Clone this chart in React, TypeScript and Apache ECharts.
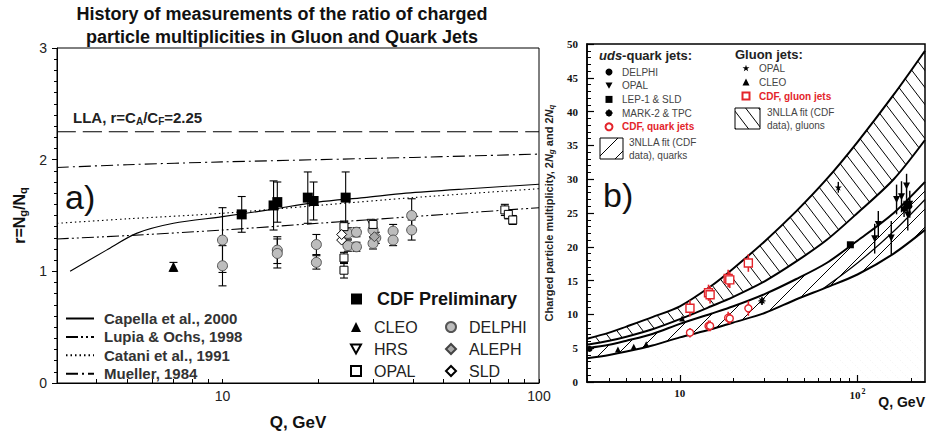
import React, { useEffect, useRef } from 'react';
import * as echarts from 'echarts';

// ---------------- Panel a) : ratio r = Ng/Nq ----------------
const leftTickValues = [3, 4, 5, 6, 7, 8, 9, 10, 20, 30, 40, 50, 60, 70, 80, 90, 100];
const leftLabelValues = [10, 100];

const llaQ = [3, 100];
const llaR = [2.25, 2.25];
const muellerQ = [3, 5, 10, 20, 40, 100];
const muellerR = [1.93, 1.955, 1.98, 2.0, 2.02, 2.05];
const lupiaQ = [3, 5, 10, 20, 40, 100];
const lupiaR = [1.29, 1.32, 1.37, 1.43, 1.49, 1.57];
const cataniQ = [3, 5, 10, 20, 40, 100];
const cataniR = [1.43, 1.47, 1.52, 1.59, 1.66, 1.74];
const capellaQ = [3.3, 4.3, 5.35, 7, 10, 14, 20, 28, 38, 60, 100];
const capellaR = [1.0, 1.19, 1.34, 1.43, 1.49, 1.55, 1.62, 1.66, 1.7, 1.74, 1.78];

const cdfQ = [11.5, 14.5, 14.9, 18.6, 19.4, 24.5];
const cdfR = [1.51, 1.59, 1.62, 1.66, 1.63, 1.66];
const cdfE = [0.16, 0.22, 0.18, 0.23, 0.17, 0.23];
const cleoQ = [7.0];
const cleoR = [1.04];
const cleoE = [0.04];
const hrsQ = [29.5];
const hrsR = [1.43];
const opalQ = [24.2, 24.2, 24.2, 29.9, 78, 80, 82.6];
const opalR = [1.4, 1.12, 1.01, 1.42, 1.55, 1.51, 1.46];
const opalE = [0.05, 0.05, 0.07, 0.04, 0.05, 0.04, 0.04];
const delphiQ = [10, 10, 14.9, 14.9, 19.8, 19.8, 24.9, 26.5, 24.9, 26.5, 29.9, 30.5, 29.9, 34.6, 34.6, 39.6, 39.6];
const delphiR = [1.28, 1.05, 1.19, 1.16, 1.24, 1.08, 1.34, 1.35, 1.23, 1.22, 1.37, 1.3, 1.25, 1.36, 1.28, 1.5, 1.37];
const delphiE = [0.29, 0.18, 0.12, 0.13, 0.09, 0.06, 0.05, 0.04, 0.05, 0.04, 0.06, 0.05, 0.05, 0.06, 0.05, 0.15, 0.09];
const alephQ = [30.2];
const alephR = [1.31];
const sldQ = [23.8, 23.8];
const sldR = [1.28, 1.33];

// ---------------- Panel b) : multiplicities ----------------
const rightMajorTicks = [10, 100];
const rightMinorTicks = [3, 4, 5, 6, 7, 8, 9, 20, 30, 40, 50, 60, 70, 80, 90, 200];

const bandQ = [3, 4, 5, 7, 10, 15, 20, 30, 45, 67, 100, 160, 240];
const gluonUp = [6.4, 7.3, 8.2, 9.6, 11.2, 14.2, 16.8, 20.8, 25.2, 30.0, 35.5, 42.5, 49.0];
const gluonLow = [5.5, 6.1, 6.7, 7.8, 9.3, 11.2, 12.6, 14.9, 17.8, 21.0, 25.0, 30.0, 35.8];
const quarkUp = [5.0, 5.5, 6.1, 7.1, 8.6, 10.1, 11.2, 13.0, 15.2, 17.6, 20.9, 25.0, 29.6];
const quarkLow = [3.5, 4.0, 4.5, 5.4, 6.6, 7.8, 8.8, 10.2, 12.2, 14.0, 15.9, 19.0, 22.5];
const quarkMidQ = [64, 100, 160, 240];
const quarkMid = [13.8, 17.6, 22.3, 27.0];

const cdfGluonQ = [11.4, 14.5, 14.8, 18.7, 19.1, 24.3];
const cdfGluonN = [10.9, 13.2, 12.9, 15.3, 15.1, 17.6];
const cdfGluonE = [1.2, 1.2, 1.3, 1.3, 1.2, 1.3];
const cdfQuarkQ = [11.4, 14.5, 14.8, 18.7, 19.1, 24.3];
const cdfQuarkN = [7.3, 8.3, 8.3, 9.5, 9.4, 10.9];
const cdfQuarkE = [0.7, 0.8, 0.8, 0.9, 0.8, 1.1];
const opalGluonQ = [78];
const opalGluonN = [28.8];
const opalGluonE = [0.8];
const cleoBQ = [4.48, 5.5, 6.46, 10.3];
const cleoBN = [4.8, 5.2, 5.6, 9.4];
const lepQ = [91.2];
const lepN = [20.3];
const markQ = [29];
const markN = [12.0];
const markE = [0.6];
const delphiBQ = [3.1, 183, 189, 196];
const delphiBN = [4.9, 25.6, 26.2, 26.0];
const delphiBE = [0.2, 1.2, 1.0, 1.1];
const opalQuarkQ = [125, 131, 155, 166, 177, 189, 192, 197];
const opalQuarkN = [21.2, 23.3, 21.3, 27.0, 27.4, 29.0, 24.7, 26.3];
const opalQuarkE = [2.2, 2.0, 2.5, 2.2, 2.3, 1.8, 2.3, 2.0];

// ---------------- helpers ----------------
const F = 'Liberation Sans, Arial, Helvetica, sans-serif';
const FS = 'Liberation Serif, Times New Roman, serif';
const RED = '#e3242b';

const TRI_DOWN = 'path://M0,0L10,0L5,9Z';
const ASTER = 'path://M0,5L10,5M5,0L5,10M1.5,1.5L8.5,8.5M8.5,1.5L1.5,8.5';
const STAR = 'path://M5,0L6.2,3.6L10,3.6L7,5.9L8.1,9.5L5,7.3L1.9,9.5L3,5.9L0,3.6L3.8,3.6Z';

const zip = (a: number[], b: number[]) => a.map((x, i) => [x, b[i]]);

function hatch(w: number, h: number, dir: '/' | '\\', color: string, lw: number, dash?: number[]) {
  const c = document.createElement('canvas');
  c.width = w;
  c.height = h;
  const ctx = c.getContext('2d')!;
  ctx.strokeStyle = color;
  ctx.lineWidth = lw;
  if (dash) ctx.setLineDash(dash);
  ctx.beginPath();
  for (const k of [-1, 0, 1]) {
    if (dir === '\\') {
      ctx.moveTo(k * w, 0);
      ctx.lineTo(k * w + w, h);
    } else {
      ctx.moveTo(k * w, h);
      ctx.lineTo(k * w + w, 0);
    }
  }
  ctx.stroke();
  return { image: c, repeat: 'repeat' as const };
}

function errBars(name: string, xi: number, yi: number, q: number[], v: number[], e: number[], color: string, cap: number, lw: number) {
  return {
    name,
    type: 'custom',
    xAxisIndex: xi,
    yAxisIndex: yi,
    silent: true,
    z: 3,
    data: q.map((x, i) => [x, v[i], e[i]]),
    encode: { x: 0, y: 1 },
    renderItem: (_p: any, api: any) => {
      const x = api.value(0);
      const y = api.value(1);
      const d = api.value(2);
      const p1 = api.coord([x, y + d]);
      const p2 = api.coord([x, y - d]);
      const st = { stroke: color, lineWidth: lw };
      const ch: any[] = [{ type: 'line', shape: { x1: p1[0], y1: p1[1], x2: p2[0], y2: p2[1] }, style: st }];
      if (cap > 0) {
        ch.push({ type: 'line', shape: { x1: p1[0] - cap, y1: p1[1], x2: p1[0] + cap, y2: p1[1] }, style: st });
        ch.push({ type: 'line', shape: { x1: p2[0] - cap, y1: p2[1], x2: p2[0] + cap, y2: p2[1] }, style: st });
      }
      return { type: 'group', children: ch };
    },
  };
}

function sc(name: string, xi: number, yi: number, q: number[], v: number[], symbol: string, size: number, fill: string, border: string, bw: number) {
  return {
    name,
    type: 'scatter',
    xAxisIndex: xi,
    yAxisIndex: yi,
    data: zip(q, v),
    symbol,
    symbolSize: size,
    itemStyle: { color: fill, borderColor: border, borderWidth: bw, opacity: 1 },
    z: 5,
    silent: true,
  };
}

function ln(name: string, xi: number, yi: number, q: number[], v: number[], width: number, type: any, extra: any = {}) {
  return {
    name,
    type: 'line',
    xAxisIndex: xi,
    yAxisIndex: yi,
    data: zip(q, v),
    symbol: 'none',
    smooth: 0.3,
    lineStyle: { color: '#000', width, type },
    itemStyle: { color: '#000' },
    silent: true,
    z: 2,
    ...extra,
  };
}

function fill(name: string, q: number[], v: number[], color: any) {
  return ln(name, 1, 1, q, v, 0, 'solid', {
    lineStyle: { width: 0, opacity: 0 },
    areaStyle: { color, opacity: 1 },
    z: 1,
  });
}

function buildOption() {
  const hatchG = hatch(13, 17, '\\', '#000', 1);
  const hatchQ = hatch(18, 18, '/', '#000', 1);
  const hatchBg = hatch(10, 10, '\\', '#e2e2e2', 0.6, [1, 2.5]);
  const bgQ = bandQ.filter((q) => q >= 7);
  const bgN = quarkLow.filter((_, i) => bandQ[i] >= 7);
  const strip = (n: string) => n.split('#')[0];

  return {
    animation: false,
    backgroundColor: '#fff',
    textStyle: { fontFamily: F },
    grid: [
      { left: 57, top: 48, width: 482, height: 335, show: true, borderColor: '#000', borderWidth: 1, backgroundColor: 'transparent', z: 10 },
      { left: 587, top: 44, width: 339, height: 338, show: true, borderColor: '#000', borderWidth: 1.5, backgroundColor: 'transparent', z: 10 },
    ],
    xAxis: [
      {
        type: 'log', logBase: 10, gridIndex: 0, min: 3, max: 100, z: 10,
        axisLine: { lineStyle: { color: '#000', width: 1 } },
        axisTick: { inside: true, length: 4, customValues: leftTickValues, lineStyle: { color: '#000' } },
        axisLabel: { customValues: leftLabelValues, fontSize: 14, color: '#222', margin: 6, fontFamily: F },
        splitLine: { show: false },
        name: 'Q, GeV', nameLocation: 'middle', nameGap: 31,
        nameTextStyle: { fontSize: 17, fontWeight: 'bold', color: '#111', fontFamily: F },
      },
      {
        type: 'log', logBase: 10, gridIndex: 1, min: 3, max: 240, position: 'bottom', z: 10,
        axisLine: { lineStyle: { color: '#000', width: 1.5 } },
        axisTick: { inside: true, length: 7, customValues: rightMajorTicks, lineStyle: { color: '#000', width: 1.2 } },
        axisLabel: {
          customValues: rightMajorTicks, fontSize: 11, fontWeight: 'bold', color: '#111', margin: 5, fontFamily: FS,
          formatter: (v: number) => (v >= 100 ? '10{sup|2}' : '10'),
          rich: { sup: { fontSize: 8, fontWeight: 'bold', fontFamily: FS, padding: [0, 0, 7, 1] } },
        },
        splitLine: { show: false },
        name: 'Q, GeV', nameLocation: 'end', nameGap: 0,
        nameTextStyle: { fontSize: 14, fontWeight: 'bold', color: '#111', fontFamily: F, align: 'right', verticalAlign: 'top', padding: [13, 0, 0, 0] },
      },
      {
        type: 'log', logBase: 10, gridIndex: 1, min: 3, max: 240, position: 'bottom', z: 10,
        axisLine: { show: false },
        axisTick: { inside: true, length: 4, customValues: rightMinorTicks, lineStyle: { color: '#000' } },
        axisLabel: { show: false },
        splitLine: { show: false },
      },
    ],
    yAxis: [
      {
        type: 'value', gridIndex: 0, min: 0, max: 3, interval: 1, z: 10,
        axisLine: { show: true, lineStyle: { color: '#000', width: 1 } },
        axisTick: { show: true, length: 5, lineStyle: { color: '#000' } },
        minorTick: { show: true, splitNumber: 10, length: 3, lineStyle: { color: '#000' } },
        axisLabel: { fontSize: 14, color: '#222', margin: 10, fontFamily: F },
        splitLine: { show: false },
        name: 'r=N{sub|g}/N{sub|q}', nameLocation: 'middle', nameGap: 24,
        nameTextStyle: {
          fontSize: 16, fontWeight: 'bold', color: '#111', fontFamily: F,
          rich: { sub: { fontSize: 11, fontWeight: 'bold', fontFamily: F, padding: [7, 0, 0, 0] } },
        },
      },
      {
        type: 'value', gridIndex: 1, min: 0, max: 50, interval: 5, z: 10,
        axisLine: { show: true, lineStyle: { color: '#000', width: 1.5 } },
        axisTick: { show: true, inside: true, length: 7, lineStyle: { color: '#000', width: 1.2 } },
        minorTick: { show: true, splitNumber: 5, length: 4, lineStyle: { color: '#000' } },
        axisLabel: { fontSize: 11, fontWeight: 'bold', color: '#111', margin: 9, fontFamily: FS },
        splitLine: { show: false },
        name: 'Charged particle multiplicity, 2{i|N}{sub|g} and 2{i|N}{sub|q}', nameLocation: 'middle', nameGap: 32,
        nameTextStyle: {
          fontSize: 11, fontWeight: 'bold', color: '#222', fontFamily: F,
          rich: {
            i: { fontSize: 11, fontWeight: 'bold', fontStyle: 'italic', fontFamily: F },
            sub: { fontSize: 8, fontWeight: 'bold', fontStyle: 'italic', fontFamily: F, padding: [5, 0, 0, 0] },
          },
        },
      },
    ],
    legend: [
      {
        orient: 'vertical', left: 65, top: 311, padding: 0, itemGap: 3.4, itemWidth: 28, itemHeight: 12, selectedMode: false,
        itemStyle: { opacity: 0 },
        data: ['Capella et al., 2000', 'Lupia & Ochs, 1998', 'Catani et al., 1991', 'Mueller, 1984'],
        textStyle: { fontFamily: F, fontSize: 15, fontWeight: 'bold', color: '#333', lineHeight: 12, padding: [0, 0, 0, 5] },
      },
      {
        orient: 'vertical', left: 351, top: 290, padding: 0, itemWidth: 11, itemHeight: 11, selectedMode: false,
        data: ['CDF Preliminary'],
        textStyle: { fontFamily: F, fontSize: 18, fontWeight: 'bold', color: '#111', padding: [0, 0, 0, 10] },
      },
      {
        orient: 'vertical', left: 350, top: 319, padding: 0, itemGap: 6, itemWidth: 10, itemHeight: 10, selectedMode: false,
        data: ['CLEO', 'HRS', 'OPAL'],
        textStyle: { fontFamily: F, fontSize: 16, color: '#222', lineHeight: 16, padding: [0, 0, 0, 8] },
      },
      {
        orient: 'vertical', left: 445, top: 319, padding: 0, itemGap: 6, itemWidth: 10, itemHeight: 10, selectedMode: false,
        data: ['DELPHI', 'ALEPH', 'SLD'],
        textStyle: { fontFamily: F, fontSize: 16, color: '#222', lineHeight: 16, padding: [0, 0, 0, 8] },
      },
      {
        orient: 'vertical', left: 604.5, top: 66, padding: 0, itemGap: 1.7, itemWidth: 7, itemHeight: 7, selectedMode: false,
        formatter: strip,
        data: ['DELPHI#b', 'OPAL#q', 'LEP-1 & SLD', 'MARK-2 & TPC', { name: 'CDF, quark jets', textStyle: { color: RED, fontWeight: 'bold' } }],
        textStyle: { fontFamily: F, fontSize: 10, color: '#444', lineHeight: 12, padding: [0, 0, 0, 4.5] },
      },
      {
        orient: 'vertical', left: 741.5, top: 62, padding: 0, itemGap: 2, itemWidth: 7, itemHeight: 7, selectedMode: false,
        formatter: strip,
        data: ['OPAL#g', 'CLEO#b', { name: 'CDF, gluon jets', textStyle: { color: RED, fontWeight: 'bold' } }],
        textStyle: { fontFamily: F, fontSize: 10, color: '#444', lineHeight: 12, padding: [0, 0, 0, 4.5] },
      },
    ],
    graphic: [
      {
        type: 'text', x: 282, y: 2,
        style: {
          text: 'History of measurements of the ratio of charged\nparticle multiplicities in Gluon and Quark Jets',
          font: `bold 18px ${F}`, fill: '#111', textAlign: 'center', lineHeight: 23,
        },
      },
      { type: 'text', x: 65, y: 180, style: { text: 'a)', font: `34px ${F}`, fill: '#111' } },
      { type: 'text', x: 603, y: 178, style: { text: 'b)', font: `34px ${F}`, fill: '#111' } },
      {
        type: 'text', x: 73, y: 108,
        style: {
          text: 'LLA, r=C{s|A}/C{s|F}=2.25', font: `bold 15px ${F}`, fill: '#222',
          rich: { s: { font: `bold 10px ${F}`, fill: '#222', padding: [8, 0, 0, 0] } },
        },
      },
      {
        type: 'text', x: 599, y: 49,
        style: {
          text: '{i|uds}-quark jets:', font: `bold 13px ${F}`, fill: '#222',
          rich: { i: { font: `italic bold 13px ${F}`, fill: '#222' } },
        },
      },
      { type: 'text', x: 735, y: 48, style: { text: 'Gluon jets:', font: `bold 13px ${F}`, fill: '#222' } },
      { type: 'rect', shape: { x: 600, y: 138, width: 23, height: 21 }, style: { fill: hatchQ, stroke: '#000', lineWidth: 1 } },
      { type: 'text', x: 629, y: 136, style: { text: '3NLLA fit (CDF\ndata), quarks', font: `10px ${F}`, fill: '#444', lineHeight: 13 } },
      { type: 'rect', shape: { x: 735, y: 108, width: 25, height: 21 }, style: { fill: hatchG, stroke: '#000', lineWidth: 1 } },
      { type: 'text', x: 767, y: 106, style: { text: '3NLLA fit (CDF\ndata), gluons', font: `10px ${F}`, fill: '#444', lineHeight: 13 } },
    ],
    series: [
      // ---- panel b band fills (painted in order) ----
      fill('gUpFill', bandQ, gluonUp, hatchG),
      fill('gLowFill', bandQ, gluonLow, '#fff'),
      fill('qUpFill', bandQ, quarkUp, hatchQ),
      fill('qLowFill', bandQ, quarkLow, '#fff'),
      fill('bgFill', bgQ, bgN, hatchBg),
      // ---- panel b band edges ----
      ln('gUp', 1, 1, bandQ, gluonUp, 2, 'solid'),
      ln('gLow', 1, 1, bandQ, gluonLow, 2, 'solid'),
      ln('qUp', 1, 1, bandQ, quarkUp, 2, 'solid'),
      ln('qLow', 1, 1, bandQ, quarkLow, 2, 'solid'),
      ln('qMid', 1, 1, quarkMidQ, quarkMid, 1.2, 'solid'),
      // ---- panel a curves ----
      ln('LLA', 0, 0, llaQ, llaR, 1.2, [19, 7]),
      ln('Mueller, 1984', 0, 0, muellerQ, muellerR, 1.1, [12, 4, 2, 4]),
      ln('Lupia & Ochs, 1998', 0, 0, lupiaQ, lupiaR, 1.1, [12, 3, 2, 3, 2, 3]),
      ln('Catani et al., 1991', 0, 0, cataniQ, cataniR, 1.1, [1.5, 3]),
      ln('Capella et al., 2000', 0, 0, capellaQ, capellaR, 1.1, 'solid'),
      // ---- error bars ----
      errBars('eCdf', 0, 0, cdfQ, cdfR, cdfE, '#000', 4, 1.1),
      errBars('eCleo', 0, 0, cleoQ, cleoR, cleoE, '#000', 4, 1.1),
      errBars('eOpal', 0, 0, opalQ, opalR, opalE, '#000', 4, 1.1),
      errBars('eDelphi', 0, 0, delphiQ, delphiR, delphiE, '#000', 4, 1.1),
      errBars('eCdfG', 1, 1, cdfGluonQ, cdfGluonN, cdfGluonE, RED, 0, 1.6),
      errBars('eCdfQ', 1, 1, cdfQuarkQ, cdfQuarkN, cdfQuarkE, RED, 0, 1.6),
      errBars('eOpalG', 1, 1, opalGluonQ, opalGluonN, opalGluonE, '#000', 0, 1.4),
      errBars('eMark', 1, 1, markQ, markN, markE, '#000', 0, 1.4),
      errBars('eDelphiB', 1, 1, delphiBQ, delphiBN, delphiBE, '#000', 0, 1.4),
      errBars('eOpalQ', 1, 1, opalQuarkQ, opalQuarkN, opalQuarkE, '#000', 0, 1.4),
      // ---- panel a markers ----
      sc('HRS', 0, 0, hrsQ, hrsR, TRI_DOWN, 8, '#fff', '#000', 1),
      sc('DELPHI', 0, 0, delphiQ, delphiR, 'circle', 10, '#bdbdbd', '#555', 1),
      sc('OPAL', 0, 0, opalQ, opalR, 'rect', 8, '#fff', '#000', 1),
      sc('SLD', 0, 0, sldQ, sldR, 'diamond', 10, '#fff', '#000', 1),
      sc('ALEPH', 0, 0, alephQ, alephR, 'diamond', 10, '#aaa', '#444', 1),
      sc('CLEO', 0, 0, cleoQ, cleoR, 'triangle', 10, '#000', '#000', 0),
      sc('CDF Preliminary', 0, 0, cdfQ, cdfR, 'rect', 10, '#000', '#000', 0),
      // ---- panel b markers ----
      sc('DELPHI#b', 1, 1, delphiBQ, delphiBN, 'circle', 6, '#000', '#000', 0),
      sc('OPAL#q', 1, 1, opalQuarkQ, opalQuarkN, TRI_DOWN, 7, '#000', '#000', 0),
      sc('LEP-1 & SLD', 1, 1, lepQ, lepN, 'rect', 7, '#000', '#000', 0),
      sc('MARK-2 & TPC', 1, 1, markQ, markN, ASTER, 7, '#000', '#000', 1.2),
      sc('CDF, quark jets', 1, 1, cdfQuarkQ, cdfQuarkN, 'circle', 7, '#fff', RED, 1.4),
      sc('OPAL#g', 1, 1, opalGluonQ, opalGluonN, STAR, 7, '#000', '#000', 0),
      sc('CLEO#b', 1, 1, cleoBQ, cleoBN, 'triangle', 6, '#000', '#000', 0),
      sc('CDF, gluon jets', 1, 1, cdfGluonQ, cdfGluonN, 'rect', 8, '#fff', RED, 1.4),
    ],
  };
}

export default function App() {
  const ref = useRef<HTMLDivElement>(null);
  useEffect(() => {
    if (!ref.current) return;
    const chart = echarts.init(ref.current, undefined, { renderer: 'svg' });
    chart.setOption(buildOption() as any);
    return () => chart.dispose();
  }, []);
  return (
    <div
      ref={ref}
      style={{ position: 'fixed', left: 0, top: 0, width: 928, height: 436, background: '#fff' }}
    />
  );
}
